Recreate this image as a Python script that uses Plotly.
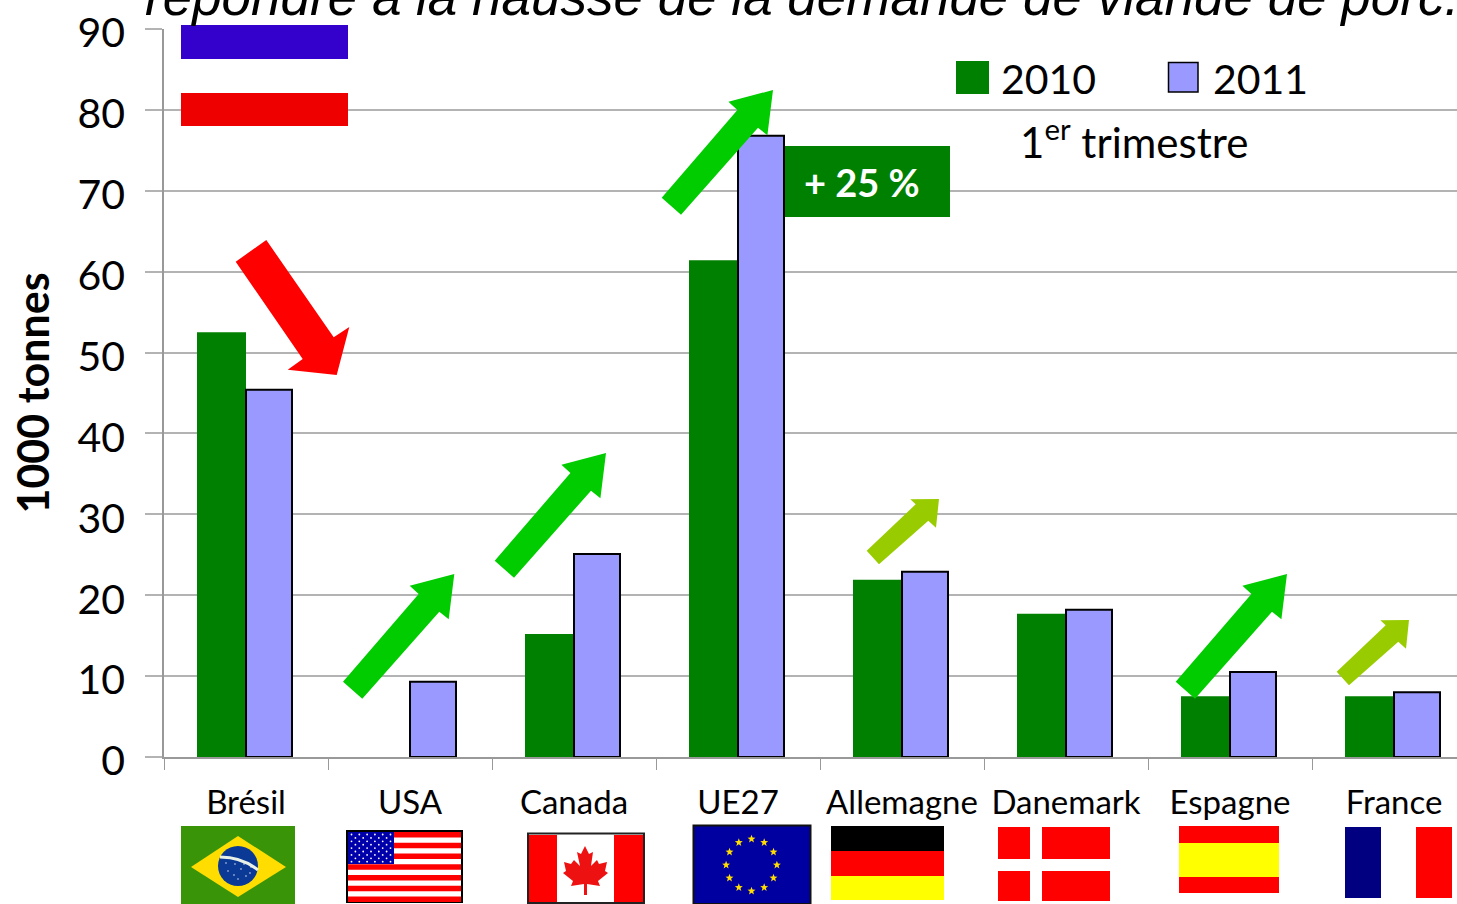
import math
import plotly.graph_objects as go

categories = ["Brésil", "USA", "Canada", "UE27", "Allemagne", "Danemark", "Espagne", "France"]
values_2010 = [52.5, None, 15.2, 61.4, 21.9, 17.7, 7.5, 7.5]
values_2011 = [45.4, 9.3, 25.1, 76.8, 22.9, 18.2, 10.5, 8.0]
y_ticks = [0, 10, 20, 30, 40, 50, 60, 70, 80, 90]

W, H = 1457, 904
L, R, T, B = 164, 1457, 29, 757
GREEN, LAV = "#008000", "#9999FF"
FONT = "Lato"


def X(x):
    return (x - L) / (R - L)


def Y(y):
    return (B - y) / (B - T)


def rect(x0, y0, x1, y1, fill, line=None, lw=0, layer="above"):
    return dict(type="rect", xref="paper", yref="paper", x0=X(x0), y0=Y(y1), x1=X(x1), y1=Y(y0),
                fillcolor=fill, line=dict(color=line or fill, width=lw), layer=layer)


def poly(points, fill, layer="above"):
    d = "M" + " L".join(f"{X(a):.5f},{Y(b):.5f}" for a, b in points) + " Z"
    return dict(type="path", xref="paper", yref="paper", path=d, fillcolor=fill,
                line=dict(width=0), layer=layer)


def circle(cx, cy, r, fill):
    return dict(type="circle", xref="paper", yref="paper", x0=X(cx - r), x1=X(cx + r),
                y0=Y(cy + r), y1=Y(cy - r), fillcolor=fill, line=dict(width=0), layer="above")


def arrow_big(tipx, tipy, fill="#00CC00"):
    pts = [(-111.3, 107.7), (-92, 124.7), (-15, 37.7), (-5.6, 45.3), (0, 0), (-44.6, 11.7), (-35.6, 20)]
    return poly([(tipx + a, tipy + b) for a, b in pts], fill)


def arrow_small(tipx, tipy, fill="#99CC00"):
    pts = [(-72.3, 51.7), (-60, 65.3), (-10.7, 21.7), (-3, 28.7), (0, 0), (-28.7, 0.3), (-23.3, 5.3)]
    return poly([(tipx + a, tipy + b) for a, b in pts], fill)


def star(cx, cy, r, fill):
    pts = []
    for i in range(10):
        a = -math.pi / 2 + i * math.pi / 5
        rr = r if i % 2 == 0 else r * 0.42
        pts.append((cx + rr * math.cos(a), cy + rr * math.sin(a)))
    return poly(pts, fill)


shapes = [
    rect(181, 25, 348, 59, "#3300CC"),
    rect(181, 93, 348, 126, "#EE0000"),
    # legend swatches
    rect(956, 61, 989, 94, GREEN),
    rect(1168.5, 62.5, 1198, 92, LAV, "#000000", 1.5),
    # +25 % box
    rect(785, 146, 950, 217, GREEN),
    # arrows
    poly([(235.7, 261.7), (266.3, 240), (333.7, 337.3), (349.3, 327), (336.7, 375), (287.7, 369.7),
          (302.7, 359)], "#FF0000"),
    arrow_big(454.3, 574),
    arrow_big(606, 453),
    arrow_big(773, 90),
    arrow_small(939, 499),
    arrow_big(1287, 574),
    arrow_small(1409, 620),
    # Brazil
    rect(181, 826, 295, 904, "#3A9408"),
    poly([(191, 867), (238, 836), (286, 867), (238, 897)], "#FFDD00"),
    circle(238, 866, 20, "#0A3A96"),
    dict(type="path", xref="paper", yref="paper",
         path=f"M{X(220):.5f},{Y(857):.5f} Q{X(242):.5f},{Y(857):.5f} {X(258):.5f},{Y(870):.5f}",
         line=dict(color="#E8F0E8", width=3), layer="above"),
    # USA
    rect(347, 831, 462, 902, "#FFFFFF", "#000000", 2),
    # Canada
    rect(528, 833.5, 644, 903, "#FFFFFF", "#222222", 2),
    rect(529, 835, 557, 902, "#FF0000"),
    rect(614, 835, 643, 902, "#FF0000"),
    poly([(585, 846), (589, 854), (593, 852), (591, 866), (597, 860), (599, 864), (607, 862),
          (605, 871), (608, 873), (598, 881), (600, 886), (587, 884), (587, 895), (584, 895),
          (584, 884), (571, 886), (573, 881), (563, 873), (566, 871), (564, 862), (571, 864),
          (574, 860), (580, 866), (577, 852), (581, 854)], "#EE1111"),
    # EU
    rect(693.5, 825.5, 810.5, 904, "#0000A0", "#111111", 2),
    # Germany
    rect(831, 826, 944, 851, "#000000"),
    rect(831, 851, 944, 876, "#FF0000"),
    rect(831, 876, 944, 900, "#FFFF00"),
    # Denmark
    rect(998, 827, 1110, 901, "#FF0000"),
    rect(1030, 827, 1042, 901, "#FFFFFF"),
    rect(998, 859, 1110, 871, "#FFFFFF"),
    # Spain
    rect(1179, 826, 1279, 893, "#FF0000"),
    rect(1179, 843, 1279, 877, "#FFFF00"),
    # France
    rect(1345, 827, 1381, 898, "#000080"),
    rect(1416, 827, 1452, 898, "#FF0000"),
]
# US stripes and canton
for i in range(7):
    top = 832 + i * 70 / 13 * 2
    shapes.append(rect(348, top, 461, top + 70 / 13, "#FF0000"))
shapes.append(rect(348, 832, 394, 864, "#0000AA"))
for r in range(9):
    n = 6 if r % 2 == 0 else 5
    for c in range(n):
        shapes.append(circle(351.5 + c * 7.8 + (0 if r % 2 == 0 else 3.9), 834.5 + r * 3.4, 0.9, "#FFFFFF"))
# EU stars
for i in range(12):
    a = i * math.pi / 6
    shapes.append(star(751.5 + 25.4 * math.sin(a), 865 - 26 * math.cos(a), 4.2, "#FFDD00"))
# Brazil dots
for dx, dy in [(-10, 5), (-4, 9), (3, 3), (8, 10), (12, 7), (0, 13), (-12, -3), (6, -2), (-3, -2), (13, 1)]:
    shapes.append(circle(238 + dx, 866 + dy, 0.7, "#FFFFFF"))


def note(x, y, text, size, color="#000000", family=FONT, anchor="left"):
    return dict(xref="paper", yref="paper", x=X(x), y=Y(y), text=text, showarrow=False,
                xanchor=anchor, yanchor="middle", align=anchor,
                font=dict(family=family, size=size, color=color))


annotations = [
    note(143, -3, "<i>répondre à la hausse de la demande de viande de porc.</i>", 53,
         family="Liberation Sans"),
    note(999, 79, "2010", 41),
    note(1211, 79, "2011", 41),
    note(1018, 139, "1<sup>er</sup> trimestre", 42),
    note(862, 182, "<b>+ 25 %</b>", 38, color="#FFFFFF", anchor="center"),
]

fig = go.Figure()
fig.add_bar(name="2010", x=categories, y=values_2010, width=49 / 164, offset=-49 / 164,
            marker=dict(color=GREEN, line=dict(width=0)))
fig.add_bar(name="2011", x=categories, y=values_2011, width=46 / 164, offset=0,
            marker=dict(color=LAV, line=dict(color="#000000", width=2)))
fig.update_layout(
    width=W, height=H, autosize=False, showlegend=False, barmode="group",
    margin=dict(l=L, r=W - R, t=T, b=H - B, pad=0),
    paper_bgcolor="#FFFFFF", plot_bgcolor="#FFFFFF",
    font=dict(family=FONT, color="#000000"),
    shapes=shapes, annotations=annotations,
    xaxis=dict(type="category", range=[-0.5, -0.5 + (R - L) / 164], tickson="boundaries",
               ticks="outside", ticklen=11, tickcolor="#999999", tickwidth=1, tickangle=0,
               tickfont=dict(size=33, family=FONT), showgrid=False,
               showline=True, linecolor="#999999", linewidth=1.5, zeroline=False,
               ticklabelstandoff=16, automargin=False),
    yaxis=dict(range=[0, 90], tickvals=y_ticks, ticks="outside", ticklen=17, tickcolor="#B3B3B3",
               tickwidth=1.5, tickfont=dict(size=41, family=FONT), showgrid=True, gridcolor="#B3B3B3",
               gridwidth=1.5, showline=True, linecolor="#999999", linewidth=1.5, zeroline=False,
               ticklabelstandoff=12, ticklabelshift=4, automargin=False,
               title=dict(text="<b>1000 tonnes</b>", font=dict(size=43, family=FONT), standoff=14)),
)
fig.write_html("out.html", config=dict(displayModeBar=False),
               post_script="document.body.style.margin='0';document.body.style.overflow='hidden';")
